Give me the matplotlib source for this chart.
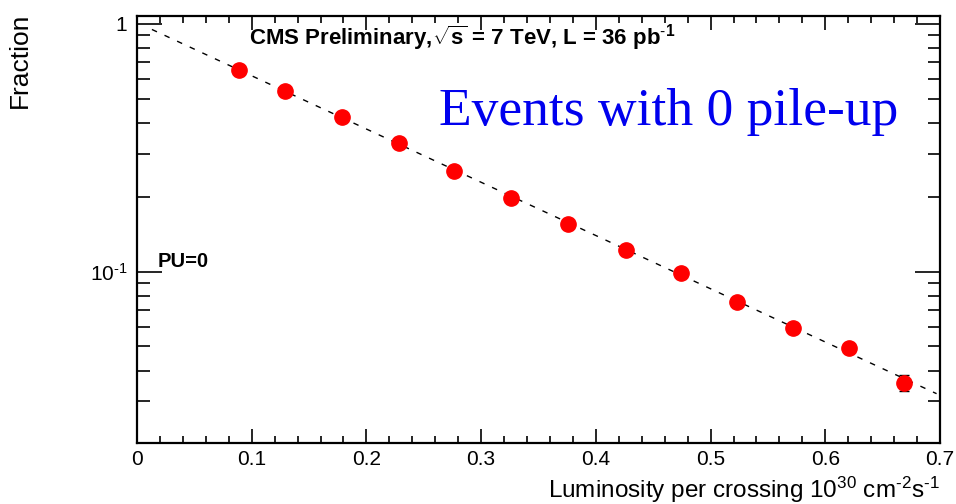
import numpy as np
import matplotlib
matplotlib.use('Agg')
import matplotlib.pyplot as plt
from matplotlib.ticker import FixedLocator, FixedFormatter, MultipleLocator, NullFormatter

plt.rcParams['font.family'] = ['Liberation Sans', 'DejaVu Sans']
plt.rcParams['mathtext.fontset'] = 'custom'
plt.rcParams['mathtext.rm'] = 'Liberation Sans'
plt.rcParams['mathtext.it'] = 'Liberation Sans'
plt.rcParams['mathtext.bf'] = 'Liberation Sans:bold'

# fraction of crossings with zero pile-up vs luminosity per crossing
lumi = [0.089, 0.129, 0.179, 0.228, 0.276, 0.326, 0.376,
        0.426, 0.474, 0.523, 0.572, 0.621, 0.669]
frac = [0.653, 0.537, 0.422, 0.331, 0.255, 0.199, 0.156,
        0.123, 0.0991, 0.0757, 0.0596, 0.0495, 0.0357]
frac_err = [0.004, 0.003, 0.003, 0.003, 0.002, 0.002, 0.002,
            0.0015, 0.0015, 0.0015, 0.0015, 0.0015, 0.0025]

# exponential fit on log scale
slope, icpt = np.polyfit(lumi, np.log(frac), 1)
xfit = np.linspace(0.013, 0.697, 200)
yfit = np.exp(icpt + slope * xfit)

fig = plt.figure(figsize=(9.56, 5.04), dpi=100)
ax = fig.add_axes([137 / 956, 61 / 504, 803 / 956, 427 / 504])

ax.plot(xfit, yfit, ls=(0, (4, 6)), color='black', lw=1.0, zorder=2)
ax.errorbar(lumi, frac, yerr=frac_err, fmt='o', color='red', ms=11,
            ecolor='black', elinewidth=1.0, capsize=3.5, capthick=1.0,
            zorder=3)

ax.set_yscale('log')
ax.set_xlim(0, 0.7)
ax.set_ylim(0.0204, 1.077)

ax.xaxis.set_major_locator(MultipleLocator(0.1))
ax.xaxis.set_minor_locator(MultipleLocator(0.02))
ax.xaxis.set_major_formatter(plt.FuncFormatter(
    lambda v, p: '0' if abs(v) < 1e-9 else f'{v:.1f}'))

ax.yaxis.set_major_locator(FixedLocator([0.1, 1.0]))
ax.yaxis.set_major_formatter(FixedFormatter([r'10$^{\text{-}1}$', '1']))
minor = [m * 10.0 ** e for e in (-2, -1) for m in range(2, 10)]
ax.yaxis.set_minor_locator(FixedLocator(minor))
ax.yaxis.set_minor_formatter(NullFormatter())

ax.tick_params(which='both', direction='in', top=True, right=True,
               labelsize=15, colors='black', width=1.2)
ax.tick_params(axis='x', which='major', length=10, pad=5)
ax.tick_params(axis='x', which='minor', length=5)
ax.tick_params(axis='y', which='major', length=18, pad=7)
ax.tick_params(axis='y', which='minor', length=9)
for s in ax.spines.values():
    s.set_linewidth(1.6)

ax.set_ylabel('Fraction', fontsize=19)
ax.yaxis.set_label_coords(-0.131, 1.007)
ax.yaxis.label.set_ha('right')
ax.set_xlabel(r'Luminosity per crossing 10$^{30}$ cm$^{\text{-}2}$s$^{\text{-}1}$',
              fontsize=17.5)
ax.xaxis.set_label_coords(1.0, -0.075)
ax.xaxis.label.set_ha('right')

ax.text(0.139, 0.948,
        r'CMS Preliminary,$\sqrt{\mathbf{s}}$ = 7 TeV, L = 36 pb$^{\mathbf{\text{-}1}}$',
        transform=ax.transAxes, fontsize=16, fontweight='bold', va='center')
ax.text(0.9477, 0.7447, 'Events with 0 pile-up', transform=ax.transAxes,
        fontsize=38.5, color='#0000ee', family='Liberation Serif',
        ha='right', va='baseline')
ax.text(0.026, 0.412, 'PU=0', transform=ax.transAxes, fontsize=14.5,
        fontweight='bold', va='baseline')

fig.savefig('out.png', dpi=100)
